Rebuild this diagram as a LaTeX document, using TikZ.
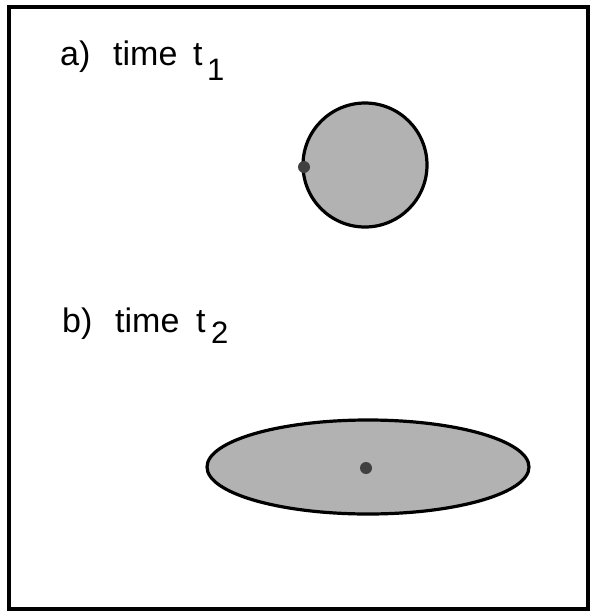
\documentclass[tikz,border=0pt]{standalone}
\usepackage{fontspec}
\setmainfont{Liberation Sans}
\begin{document}
\begin{tikzpicture}[x=1pt,y=-1pt,
  lbl/.style={inner sep=0pt,anchor=base west,font=\fontsize{34}{40}\selectfont},
  sub/.style={inner sep=0pt,anchor=base west,font=\fontsize{31}{36}\selectfont},
  blob/.style={draw=black,line width=3.2pt,fill=black!30},
  spot/.style={fill=black!75}]
\useasboundingbox (0,0) rectangle (592,614);
\node[draw=black,line width=3.2pt,minimum width=579pt,minimum height=602pt,inner sep=0pt] (frame) at (298.5,308) {};
% a)
\node[lbl] (la) at (60,65) {a)};
\node[lbl] (ta) at (113,65) {time};
\node[lbl] (va) at (193,65) {t};
\node[sub] (sa) at (207,80) {1};
\draw[blob] (365,165) circle [radius=62];
\fill[spot] (304,167) circle [radius=6];
% b)
\node[lbl] (lb) at (62,332) {b)};
\node[lbl] (tb) at (115,332) {time};
\node[lbl] (vb) at (196,332) {t};
\node[sub] (sb) at (211,343) {2};
\draw[blob] (368,467) ellipse [x radius=161, y radius=47];
\fill[spot] (366,468) circle [radius=6];
\end{tikzpicture}
\end{document}
